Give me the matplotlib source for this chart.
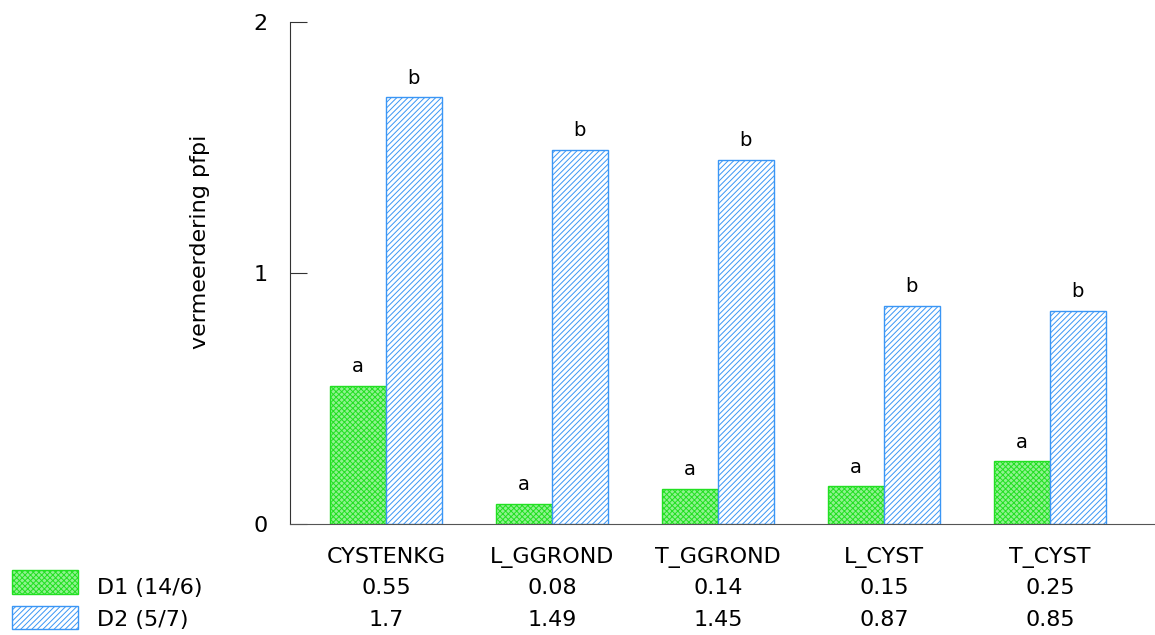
import matplotlib
matplotlib.use("Agg")
import matplotlib.pyplot as plt
import matplotlib.transforms as mtransforms
from matplotlib.patches import Rectangle

categories = ["CYSTENKG", "L_GGROND", "T_GGROND", "L_CYST", "T_CYST"]
series_names = ["D1 (14/6)", "D2 (5/7)"]
d1_values = [0.55, 0.08, 0.14, 0.15, 0.25]
d2_values = [1.7, 1.49, 1.45, 0.87, 0.85]
d1_letters = ["a", "a", "a", "a", "a"]
d2_letters = ["b", "b", "b", "b", "b"]
yticks = [0, 1, 2]
ylabel = "vermeerdering pfpi"

plt.rcParams['font.family'] = ['DejaVu Sans']
plt.rcParams['hatch.linewidth'] = 0.7

FS = 16

fig = plt.figure(figsize=(11.55, 6.35), dpi=100)
ax = fig.add_axes([290/1155, 1-524/635, 1-290/1155, (524-22)/635])

width = 0.337
x = list(range(len(categories)))
green_face = '#90f290'
green_edge = '#22e022'
blue_face = 'white'
blue_edge = '#3a96f5'
green_hatch = 'xxxxxx'
blue_hatch = '//////'

ax.bar([i - width/2 for i in x], d1_values, width, facecolor=green_face,
       edgecolor=green_edge, hatch=green_hatch, linewidth=1.0)
ax.bar([i + width/2 for i in x], d2_values, width, facecolor=blue_face,
       edgecolor=blue_edge, hatch=blue_hatch, linewidth=1.0)

for i, (v, l) in enumerate(zip(d1_values, d1_letters)):
    ax.annotate(l, (i - width/2, v), xytext=(0, 7), textcoords='offset points',
                ha='center', va='bottom', fontsize=14)
for i, (v, l) in enumerate(zip(d2_values, d2_letters)):
    ax.annotate(l, (i + width/2, v), xytext=(0, 7), textcoords='offset points',
                ha='center', va='bottom', fontsize=14)

ax.set_xlim(-0.578, 4.633)
ax.set_ylim(0, 2)
ax.set_yticks(yticks)
ax.set_yticklabels([str(t) for t in yticks], fontsize=FS)
ax.set_xticks([])
ax.tick_params(axis='y', direction='in', length=12, pad=16, color='#333333')
for s in ['top', 'right']:
    ax.spines[s].set_visible(False)
ax.spines['left'].set_color('#333333')
ax.spines['bottom'].set_color('#555555')
ax.patch.set_alpha(0)

fig.text(200/1155, 1-242/635, ylabel, rotation=90, ha='center', va='center', fontsize=FS)

# table below the axes
trans = mtransforms.blended_transform_factory(ax.transData, fig.transFigure)
row_y = [1-557/635, 1-588/635, 1-620/635]
for i, c in enumerate(categories):
    ax.text(i, row_y[0], c, transform=trans, ha='center', va='center', fontsize=FS,
            clip_on=False)
    ax.text(i, row_y[1], f"{d1_values[i]:g}", transform=trans, ha='center', va='center',
            fontsize=FS, clip_on=False)
    ax.text(i, row_y[2], f"{d2_values[i]:g}", transform=trans, ha='center', va='center',
            fontsize=FS, clip_on=False)

# legend patches
fig.patches.append(Rectangle((12/1155, 1-594/635), 66/1155, 24/635, transform=fig.transFigure,
                             facecolor=green_face, edgecolor=green_edge, hatch=green_hatch, linewidth=1.0))
fig.patches.append(Rectangle((12/1155, 1-629/635), 66/1155, 23/635, transform=fig.transFigure,
                             facecolor=blue_face, edgecolor=blue_edge, hatch=blue_hatch, linewidth=1.0))
fig.text(97/1155, row_y[1], series_names[0], ha='left', va='center', fontsize=FS)
fig.text(97/1155, row_y[2], series_names[1], ha='left', va='center', fontsize=FS)

fig.savefig("out.png", dpi=100)
